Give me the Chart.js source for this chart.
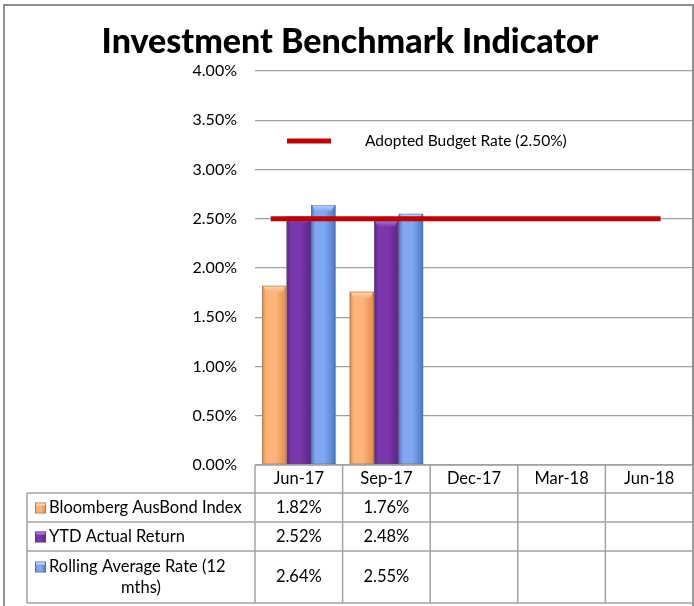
<!DOCTYPE html>
<html>
<head>
<meta charset="utf-8">
<script src="https://cdn.jsdelivr.net/npm/chart.js@4/dist/chart.umd.min.js"></script>
<style>
  html, body { margin: 0; padding: 0; background: #ffffff; }
  #wrap { width: 694px; height: 606px; position: relative; }
</style>
</head>
<body>
<div id="wrap"><canvas id="chart" width="694" height="606"></canvas></div>
<script>
// Quarterly reporting periods
const categories = ['Jun-17', 'Sep-17', 'Dec-17', 'Mar-18', 'Jun-18'];

// Returns per period (%)
const bloombergIndex = [1.82, 1.76, null, null, null];
const ytdActualReturn = [2.52, 2.48, null, null, null];
const rollingAverageRate = [2.64, 2.55, null, null, null];

// Adopted budget rate (%)
const budgetRate = 2.50;

// Series names shown in the data table
const seriesNames = ['Bloomberg AusBond Index', 'YTD Actual Return', 'Rolling Average Rate (12 mths)'];
const budgetLabel = 'Adopted Budget Rate (2.50%)';
const chartTitle = 'Investment Benchmark Indicator';

// Y axis range and step (%)
const yMin = 0, yMax = 4, yStep = 0.5;

const FONT = 'Lato, "Open Sans", sans-serif';

// Colour ramps for the cylinder-like bars: edge, centre, cap
const palettes = [
  { edge: '#E58A45', mid: '#FDB57C', cap: '#FFD6AA' },
  { edge: '#5A2585', mid: '#7A36AB', cap: '#AE78D6' },
  { edge: '#4A78C8', mid: '#80A8F0', cap: '#BCD3FB' }
];

function barGradient(ctx, left, right, pal) {
  const g = ctx.createLinearGradient(left, 0, right, 0);
  g.addColorStop(0, pal.edge);
  g.addColorStop(0.18, pal.mid);
  g.addColorStop(0.55, pal.mid);
  g.addColorStop(1, pal.edge);
  return g;
}

// Frame, title and shading of the bars
const decorPlugin = {
  id: 'decor',
  beforeDraw(chart) {
    const ctx = chart.ctx;
    ctx.save();
    ctx.fillStyle = '#ffffff';
    ctx.fillRect(0, 0, chart.width, chart.height);
    ctx.strokeStyle = '#8f8f8f';
    ctx.lineWidth = 2;
    ctx.strokeRect(4, 5, chart.width - 5, chart.height + 20);
    ctx.fillStyle = '#000000';
    ctx.font = '900 34px ' + FONT;
    ctx.textAlign = 'center';
    ctx.textBaseline = 'alphabetic';
    ctx.fillText(chartTitle, 350, 53);
    ctx.restore();
  },
  beforeDatasetsDraw(chart) {
    const ctx = chart.ctx;
    chart.data.datasets.forEach((ds, di) => {
      const meta = chart.getDatasetMeta(di);
      if (meta.type !== 'bar') return;
      meta.data.forEach(bar => {
        if (!bar || isNaN(bar.y)) return;
        const left = bar.x - bar.width / 2, right = bar.x + bar.width / 2;
        bar.options = Object.assign({}, bar.options, {
          backgroundColor: barGradient(ctx, left, right, palettes[di])
        });
      });
    });
  },
  afterDatasetsDraw(chart) {
    const ctx = chart.ctx;
    ctx.save();
    // bevelled top of each bar
    chart.data.datasets.forEach((ds, di) => {
      const meta = chart.getDatasetMeta(di);
      if (meta.type !== 'bar') return;
      meta.data.forEach((bar, i) => {
        if (ds.data[i] == null) return;
        const l = bar.x - bar.width / 2, r = bar.x + bar.width / 2, t = bar.y;
        const pal = palettes[di];
        const g = ctx.createLinearGradient(0, t, 0, t + 6);
        g.addColorStop(0, pal.cap);
        g.addColorStop(1, pal.mid);
        ctx.fillStyle = g;
        ctx.beginPath();
        ctx.moveTo(l + 1, t);
        ctx.lineTo(r - 1, t);
        ctx.lineTo(r - 4, t + 6);
        ctx.lineTo(l + 4, t + 6);
        ctx.closePath();
        ctx.fill();
        ctx.strokeStyle = 'rgba(90,90,90,0.35)';
        ctx.lineWidth = 1;
        ctx.strokeRect(l + 0.5, t + 0.5, r - l - 1, bar.base - t - 1);
      });
    });

    // budget rate line
    const xs = chart.scales.x, ys = chart.scales.y;
    const catW = (xs.right - xs.left) / categories.length;
    const yb = ys.getPixelForValue(budgetRate);
    ctx.strokeStyle = '#C00000';
    ctx.lineWidth = 5;
    ctx.beginPath();
    ctx.moveTo(xs.getPixelForValue(0) - catW * 0.32, yb);
    ctx.lineTo(xs.getPixelForValue(categories.length - 1) + catW * 0.13, yb);
    ctx.stroke();

    // legend entry for the budget line
    const ca = chart.chartArea;
    ctx.beginPath();
    ctx.moveTo(ca.left + 32, ca.top + 70);
    ctx.lineTo(ca.left + 76, ca.top + 70);
    ctx.stroke();
    ctx.fillStyle = '#000000';
    ctx.font = '15.5px ' + FONT;
    ctx.textAlign = 'left';
    ctx.textBaseline = 'middle';
    ctx.fillText(budgetLabel, ca.left + 110, ca.top + 70);
    ctx.restore();
  },
  afterDraw(chart) {
    // data table under the plot
    const ctx = chart.ctx;
    const xs = chart.scales.x;
    const ca = chart.chartArea;
    const catW = (xs.right - xs.left) / categories.length;
    const top = ca.bottom;
    const rowTops = [top, top + 28, top + 57, top + 86, top + 138];
    const tableLeft = 27;
    ctx.save();
    ctx.strokeStyle = '#a3a3a3';
    ctx.lineWidth = 1.5;
    // horizontal rules
    ctx.beginPath();
    ctx.moveTo(ca.left, rowTops[0]); ctx.lineTo(ca.right, rowTops[0]);
    for (let r = 1; r < rowTops.length; r++) {
      ctx.moveTo(tableLeft, rowTops[r]); ctx.lineTo(ca.right, rowTops[r]);
    }
    // vertical rules
    ctx.moveTo(tableLeft, rowTops[1]); ctx.lineTo(tableLeft, rowTops[4]);
    for (let c = 0; c <= categories.length; c++) {
      const x = xs.left + c * catW;
      ctx.moveTo(x, rowTops[0]); ctx.lineTo(x, rowTops[4]);
    }
    ctx.stroke();

    ctx.fillStyle = '#000000';
    ctx.font = '16.5px ' + FONT;
    ctx.textBaseline = 'middle';
    ctx.textAlign = 'center';
    categories.forEach((c, i) => {
      ctx.fillText(c, xs.getPixelForValue(i), (rowTops[0] + rowTops[1]) / 2);
    });

    const series = [bloombergIndex, ytdActualReturn, rollingAverageRate];
    series.forEach((vals, si) => {
      const yMid = (rowTops[si + 1] + rowTops[si + 2]) / 2;
      vals.forEach((v, i) => {
        if (v == null) return;
        ctx.textAlign = 'center';
        ctx.fillText(v.toFixed(2) + '%', xs.getPixelForValue(i), yMid);
      });

      // series name, wrapped to the cell width
      const textX = 49, maxW = ca.left - textX - 4;
      const words = seriesNames[si].split(' ');
      const lines = [];
      let line = '';
      words.forEach(w => {
        const test = line ? line + ' ' + w : w;
        if (ctx.measureText(test).width > maxW && line) { lines.push(line); line = w; }
        else line = test;
      });
      lines.push(line);
      const lh = 21;
      const firstY = yMid - (lines.length - 1) * lh / 2;
      lines.forEach((ln, li) => {
        if (li === 0) {
          ctx.textAlign = 'left';
          ctx.fillText(ln, textX, firstY);
        } else {
          ctx.textAlign = 'center';
          ctx.fillText(ln, (tableLeft + ca.left) / 2, firstY + li * lh);
        }
      });

      // legend key
      const kx = 35, ky = firstY - 5, ks = 11;
      ctx.fillStyle = barGradient(ctx, kx, kx + ks, palettes[si]);
      ctx.fillRect(kx, ky, ks, ks);
      ctx.fillStyle = palettes[si].cap;
      ctx.fillRect(kx + 1, ky, ks - 2, 3);
      ctx.strokeStyle = 'rgba(90,90,90,0.4)';
      ctx.lineWidth = 1;
      ctx.strokeRect(kx + 0.5, ky + 0.5, ks - 1, ks - 1);
      ctx.fillStyle = '#000000';
    });
    ctx.restore();
  }
};

new Chart(document.getElementById('chart'), {
  type: 'bar',
  data: {
    labels: categories,
    datasets: [
      { label: seriesNames[0], data: bloombergIndex, backgroundColor: palettes[0].mid },
      { label: seriesNames[1], data: ytdActualReturn, backgroundColor: palettes[1].mid },
      { label: seriesNames[2], data: rollingAverageRate, backgroundColor: palettes[2].mid }
    ]
  },
  options: {
    responsive: false,
    animation: false,
    devicePixelRatio: 1,
    layout: { padding: { top: 71, bottom: 141, left: 0, right: 1 } },
    datasets: { bar: { categoryPercentage: 0.84, barPercentage: 1.0, borderWidth: 0 } },
    plugins: {
      legend: { display: false },
      title: { display: false },
      tooltip: { enabled: false }
    },
    scales: {
      x: {
        display: false,
        offset: true,
        grid: { display: false }
      },
      y: {
        min: yMin,
        max: yMax,
        afterFit(scale) { scale.width = 255; },
        border: { display: false },
        grid: { color: '#a0a0a0', lineWidth: 1.3, drawTicks: false },
        ticks: {
          stepSize: yStep,
          padding: 18,
          color: '#000000',
          font: { family: FONT, size: 16 },
          callback: v => v.toFixed(2) + '%'
        }
      }
    }
  },
  plugins: [decorPlugin]
});
</script>
</body>
</html>
